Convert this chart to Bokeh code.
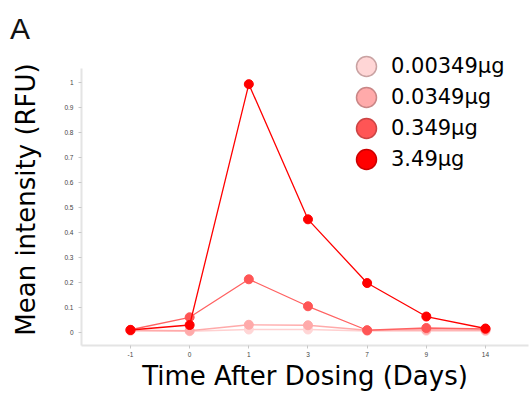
from bokeh.plotting import figure
from bokeh.models import (Range1d, FixedTicker, PrintfTickFormatter, Title,
                          Legend, LegendItem, ColumnDataSource)
from bokeh.embed import file_html
from bokeh.resources import INLINE

# ---- data ----
days = ["-1", "0", "1", "3", "7", "9", "14"]
dose_labels = ["0.00349\u03bcg", "0.0349\u03bcg", "0.349\u03bcg", "3.49\u03bcg"]
dose_00349 = [0.005, 0.004, 0.011, 0.011, 0.005, 0.006, 0.005]
dose_0349 = [0.008, 0.006, 0.030, 0.028, 0.008, 0.010, 0.008]
dose_349 = [0.010, 0.060, 0.212, 0.104, 0.008, 0.017, 0.013]
dose_3490 = [0.009, 0.029, 0.993, 0.452, 0.197, 0.063, 0.015]
y_ticks = [0, 0.1, 0.2, 0.3, 0.4, 0.5, 0.6, 0.7, 0.8, 0.9, 1]

series = [dose_00349, dose_0349, dose_349, dose_3490]
fills = ["#ffd6d6", "#ffaaaa", "#ff5555", "#ff0000"]
strokes = ["#c9a2a2", "#c98686", "#cc4444", "#cc0000"]
line_cols = ["#ffd0d0", "#ffaaaa", "#ff6262", "#ff0000"]

xs = list(range(len(days)))

p = figure(width=531, height=393, output_backend="svg", toolbar_location=None,
           title="A",
           x_range=Range1d(-0.828, 6.727), y_range=Range1d(-0.053, 1.1157),
           min_border_left=81, min_border_right=3, min_border_top=53,
           min_border_bottom=47)
p.outline_line_color = None
p.xgrid.grid_line_color = None
p.ygrid.grid_line_color = None
p.background_fill_color = "white"
p.border_fill_color = "white"

p.title.align = "left"
p.title.offset = -71.5
p.title.standoff = 17
p.title.text_font = "Liberation Sans"
p.title.text_font_size = "30px"
p.title.text_font_style = "normal"
p.title.text_color = "#111111"

items = []
for vals, fc, sc, lc, lab in zip(series, fills, strokes, line_cols, dose_labels):
    src = ColumnDataSource(dict(x=xs, y=vals))
    p.line("x", "y", source=src, line_color=lc, line_width=1.3)
    p.scatter("x", "y", source=src, size=9, fill_color=fc, line_color=fc,
              line_width=1)
    # legend proxy (size 0: only drawn inside the legend)
    proxy = p.scatter("x", "y", source=src, size=0, fill_color=fc,
                      line_color=sc, line_width=1.5)
    items.append(LegendItem(label=lab, renderers=[proxy]))

for ax in (p.xaxis[0], p.yaxis[0]):
    ax.axis_line_color = "#e4e4e4"
    ax.axis_line_width = 2
    ax.major_tick_line_color = "#c8c8c8"
    ax.major_tick_in = 0
    ax.major_tick_out = 3
    ax.minor_tick_line_color = None
    ax.major_label_text_font = "Liberation Sans"
    ax.major_label_text_font_size = "6.5px"
    ax.major_label_text_color = "#444444"

p.xaxis.ticker = FixedTicker(ticks=xs)
p.xaxis.major_label_overrides = {i: d for i, d in enumerate(days)}
p.xaxis.major_label_standoff = 3
p.yaxis.ticker = FixedTicker(ticks=y_ticks)
p.yaxis.formatter = PrintfTickFormatter(format="%g")
p.yaxis.major_label_standoff = 5
p.yaxis.bounds = (-0.053, 1.056)
p.yaxis.axis_label = "Mean intensity (RFU)"
p.yaxis.axis_label_text_font = "DejaVu Sans"
p.yaxis.axis_label_text_font_size = "26px"
p.yaxis.axis_label_text_font_style = "normal"
p.yaxis.axis_label_text_color = "black"
p.yaxis.axis_label_standoff = 20

common = dict(glyph_width=50, glyph_height=50, label_height=20, spacing=12,
              padding=0, margin=0, label_standoff=0,
              label_text_font="DejaVu Sans", label_text_font_size="21px",
              label_text_color="black", border_line_color=None,
              background_fill_alpha=0)
p.add_layout(Legend(items=[items[0], items[2]], location=(260, 192.5), **common))
p.add_layout(Legend(items=[items[1], items[3]], location=(260, 161.5), **common))

p.add_layout(Title(text="Time After Dosing (Days)", align="center", offset=6,
                   vertical_align="top", standoff=2,
                   text_font="DejaVu Sans", text_font_size="26px",
                   text_font_style="normal", text_color="black"), "below")

open("out.html", "w").write(file_html(p, INLINE))
